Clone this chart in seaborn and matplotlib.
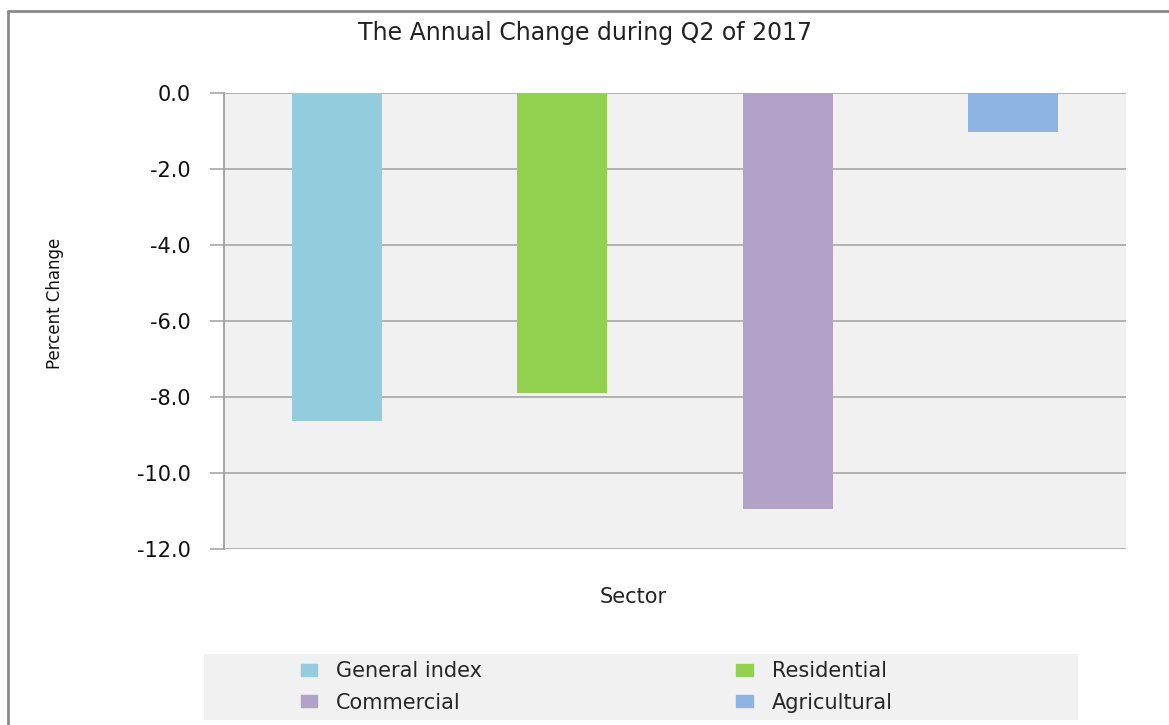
import matplotlib
matplotlib.use('Agg')
import matplotlib.pyplot as plt
import matplotlib.patches as mpatches
from matplotlib.lines import Line2D
import pandas as pd
import seaborn as sns

# 数据
sectors = ['General index', 'Residential', 'Commercial', 'Agricultural']
pct_change = [-8.62, -7.89, -10.96, -1.03]
colors = ['#93CDDD', '#92D050', '#B3A2C7', '#8DB4E2']
y_ticks = [0, -2, -4, -6, -8, -10, -12]

df = pd.DataFrame({'sector': sectors, 'pct': pct_change})

sns.set_style('white')
plt.rcParams['font.family'] = ['DejaVu Sans']

fig = plt.figure(figsize=(11.69, 7.25), dpi=100)
ax = fig.add_axes([224 / 1169, 1 - 549 / 725, 902 / 1169, 456 / 725])

sns.barplot(data=df, x='sector', y='pct', hue='sector', palette=colors,
            width=0.4, dodge=False, legend=False, saturation=1,
            linewidth=0, edgecolor='none', ax=ax, zorder=3)

ax.set_facecolor('#F1F1F1')
ax.set_ylim(-12, 0)
ax.set_xlim(-0.5, 3.5)
ax.set_yticks(y_ticks)
ax.set_yticklabels([f'{v:.1f}' for v in y_ticks], fontsize=15, color='#111111')
ax.set_xticks([])
ax.set_xlabel('')
ax.set_ylabel('')
ax.grid(axis='y', color='#A0A0A0', linewidth=1.1, zorder=0)
ax.set_axisbelow(True)
ax.tick_params(axis='y', direction='out', length=10, width=1.1, color='#A0A0A0', pad=14, left=True)
for side in ['top', 'right', 'bottom']:
    ax.spines[side].set_visible(False)
ax.spines['left'].set_color('#A0A0A0')
ax.spines['left'].set_linewidth(1.3)

# 标题和轴标签
fig.text(0.5, 1 - 33 / 725, 'The Annual Change during Q2 of 2017',
         ha='center', va='center', fontsize=17, color='#222222')
fig.text(55 / 1169, 1 - 303 / 725, 'Percent Change', rotation=90,
         ha='center', va='center', fontsize=12, color='#111111')
fig.text(633 / 1169, 1 - 597 / 725, 'Sector', ha='center', va='center',
         fontsize=15, color='#222222')

# 图例背景
fig.patches.append(mpatches.Rectangle((204 / 1169, 1 - 720 / 725), 874 / 1169, 66 / 725,
                                      transform=fig.transFigure, facecolor='#F1F1F1',
                                      edgecolor='none', zorder=0))
handles = [mpatches.Patch(color=c) for c in colors]
order = [0, 2, 1, 3]
fig.legend([handles[i] for i in order], [sectors[i] for i in order],
           loc='center left', bbox_to_anchor=(282 / 1169, 1 - 687 / 725),
           ncol=2, frameon=False, fontsize=15, handlelength=0.8, handleheight=0.5,
           handletextpad=0.9, columnspacing=12.2, labelspacing=0.55)

# 外边框
fig.add_artist(Line2D([8 / 1169, 8 / 1169], [0, 1 - 11 / 725], transform=fig.transFigure,
                      color='#8A8A8A', linewidth=2))
fig.add_artist(Line2D([8 / 1169, 1], [1 - 11 / 725, 1 - 11 / 725], transform=fig.transFigure,
                      color='#8A8A8A', linewidth=2))

plt.savefig('out.png', dpi=100)
